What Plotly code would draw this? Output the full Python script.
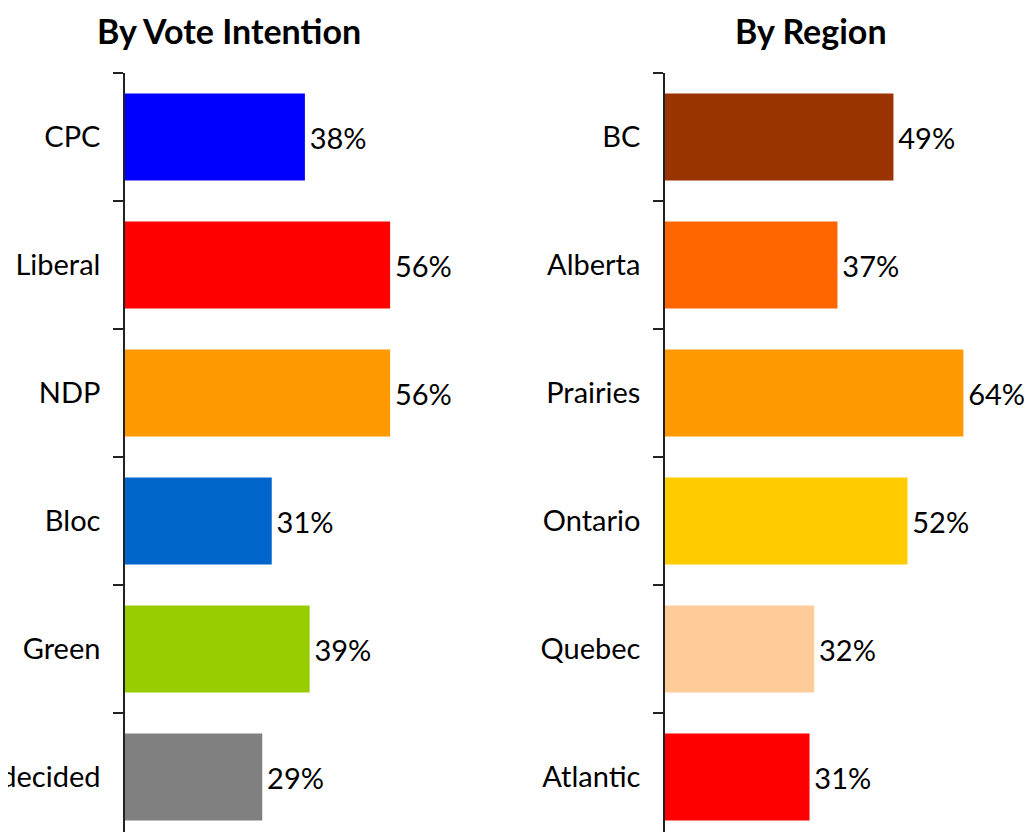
import plotly.graph_objects as go

vote_cats = ["CPC", "Liberal", "NDP", "Bloc", "Green", "Undecided"]
vote_vals = [38, 56, 56, 31, 39, 29]
vote_colors = ["#0000FF", "#FF0000", "#FF9900", "#0066CC", "#99CC00", "#808080"]

region_cats = ["BC", "Alberta", "Prairies", "Ontario", "Quebec", "Atlantic"]
region_vals = [49, 37, 64, 52, 32, 31]
region_colors = ["#993300", "#FF6600", "#FF9900", "#FFCC00", "#FFCC99", "#FF0000"]

# page body has an 8px default margin on every side; figure sized to fit the window
OFF = 8
W, H = 1032 - 2 * OFF, 840 - 2 * OFF
T = 73 - OFF
FONT = "Lato"
FS = 29
CAT_PX = 128.0
yspan = (H - T) / CAT_PX

fig = go.Figure()
fig.add_trace(go.Bar(
    y=vote_cats, x=vote_vals, orientation="h", marker=dict(color=vote_colors, line=dict(width=0)),
    texttemplate="\u200a%{x}%", textposition="outside", cliponaxis=False,
    textfont=dict(family=FONT, size=FS, color="black"), width=0.68,
    xaxis="x", yaxis="y", showlegend=False, hoverinfo="skip"))
fig.add_trace(go.Bar(
    y=region_cats, x=region_vals, orientation="h", marker=dict(color=region_colors, line=dict(width=0)),
    texttemplate="\u200a%{x}%", textposition="outside", cliponaxis=False,
    textfont=dict(family=FONT, size=FS, color="black"), width=0.68,
    xaxis="x2", yaxis="y2", showlegend=False, hoverinfo="skip"))

yax = dict(type="category", range=[-0.5 + yspan, -0.5], showline=True, linecolor="#222", linewidth=1.5,
           ticks="outside", tickson="boundaries", ticklen=10, tickwidth=1.5, tickcolor="#222",
           showgrid=False, zeroline=False, automargin=False,
           tickfont=dict(family=FONT, size=FS, color="black"), ticklabelstandoff=17)

TITLE_Y = 30
fig.update_layout(
    width=W, height=H, margin=dict(l=0, r=0, t=T, b=0),
    paper_bgcolor="white", plot_bgcolor="white",
    xaxis=dict(domain=[(125 - OFF) / W, (499 - OFF) / W], anchor="y", range=[0, 79],
               visible=False, showgrid=False, zeroline=False),
    xaxis2=dict(domain=[(665 - OFF) / W, 1.0], anchor="y2", range=[0, 77],
                visible=False, showgrid=False, zeroline=False),
    yaxis=dict(anchor="x", categoryarray=vote_cats, categoryorder="array", **yax),
    yaxis2=dict(anchor="x2", categoryarray=region_cats, categoryorder="array", **yax),
    annotations=[
        dict(text="<b>By Vote Intention</b>", x=(229 - OFF) / W, y=(H - (TITLE_Y - OFF)) / (H - T),
             xref="paper", yref="paper", showarrow=False, xanchor="center", yanchor="middle",
             borderpad=0, font=dict(family=FONT, size=34, color="black")),
        dict(text="<b>By Region</b>", x=(811 - OFF) / W, y=(H - (TITLE_Y - OFF)) / (H - T),
             xref="paper", yref="paper", showarrow=False, xanchor="center", yanchor="middle",
             borderpad=0, font=dict(family=FONT, size=34, color="black")),
    ],
)

fig.write_html("out.html")
